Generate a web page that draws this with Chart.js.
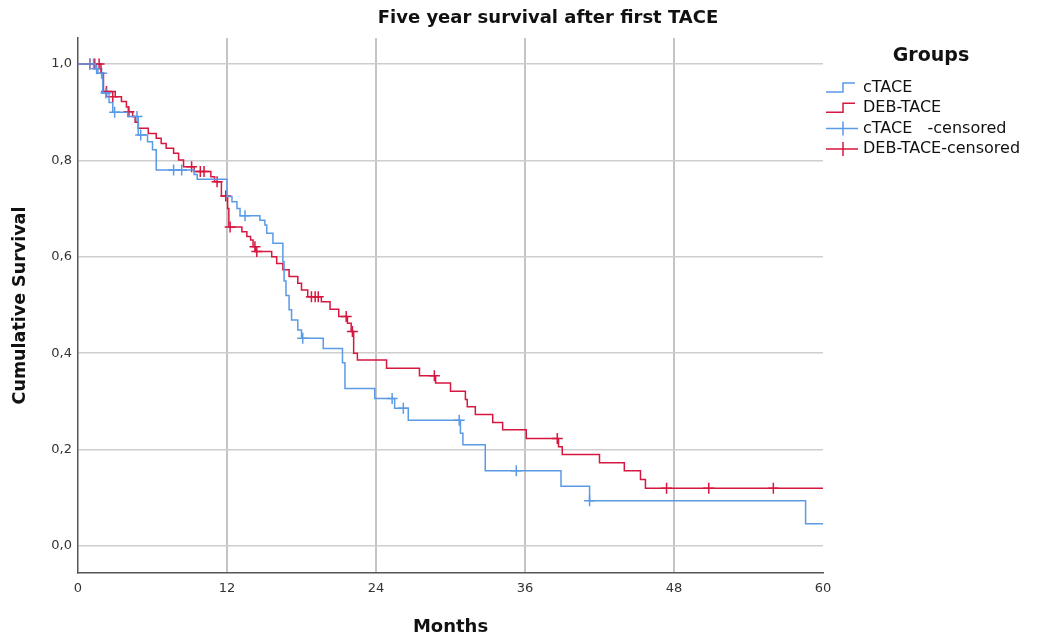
<!DOCTYPE html>
<html>
<head>
<meta charset="utf-8">
<script src="https://cdn.jsdelivr.net/npm/chart.js@4.4.0/dist/chart.umd.min.js"></script>
<style>
  html, body { margin: 0; padding: 0; background: #fff; }
</style>
</head>
<body>
<canvas id="km" width="1038" height="639"></canvas>
<script>
// Kaplan-Meier steps: survival from each time onward
const ctaceTimes = [0, 1.4, 1.6, 2.0, 2.5, 2.8, 4.0, 4.85, 5.6, 6.0, 6.3, 9.35, 9.6, 12.0, 12.4, 12.8, 13.05, 14.65, 15.05, 15.2, 15.7, 16.5, 16.6, 16.75, 17.0, 17.2, 17.7, 18.0, 19.75, 21.3, 21.5, 23.9, 25.5, 26.6, 30.8, 31.0, 32.8, 38.9, 41.2, 58.6, 60];
const ctaceSurv = [1.0, 0.99, 0.981, 0.94, 0.92, 0.90, 0.891, 0.853, 0.839, 0.822, 0.78, 0.771, 0.761, 0.725, 0.714, 0.70, 0.685, 0.676, 0.666, 0.649, 0.628, 0.59, 0.55, 0.52, 0.49, 0.469, 0.448, 0.431, 0.41, 0.38, 0.327, 0.306, 0.286, 0.261, 0.234, 0.21, 0.156, 0.124, 0.094, 0.046, 0.046];
const ctaceCensTimes = [0.95, 1.25, 1.5, 1.9, 2.25, 2.95, 4.75, 5.05, 7.7, 8.35, 13.45, 18.1, 25.3, 26.2, 30.7, 35.3, 41.2];
const ctaceCensSurv = [1.0, 1.0, 0.99, 0.981, 0.94, 0.90, 0.891, 0.853, 0.78, 0.78, 0.685, 0.431, 0.306, 0.286, 0.261, 0.156, 0.094];

const debTimes = [0, 1.85, 2.05, 3.0, 3.5, 3.9, 4.05, 4.4, 4.6, 4.86, 5.66, 6.3, 6.7, 7.1, 7.7, 8.1, 8.5, 9.35, 10.7, 11.0, 11.55, 12.05, 12.15, 13.2, 13.6, 13.9, 14.1, 14.3, 15.6, 16.0, 16.5, 17.0, 17.7, 18.0, 18.5, 19.6, 20.3, 21.0, 21.7, 22.0, 22.2, 22.5, 24.85, 27.5, 28.8, 30.0, 31.2, 31.35, 32.0, 33.4, 34.2, 36.1, 38.7, 39.0, 42.0, 44.0, 45.3, 45.7, 60];
const debSurv = [1.0, 0.981, 0.943, 0.932, 0.922, 0.911, 0.901, 0.891, 0.879, 0.867, 0.856, 0.846, 0.835, 0.825, 0.815, 0.801, 0.787, 0.777, 0.766, 0.756, 0.726, 0.70, 0.662, 0.652, 0.642, 0.635, 0.621, 0.611, 0.600, 0.586, 0.573, 0.559, 0.545, 0.531, 0.517, 0.507, 0.491, 0.476, 0.462, 0.445, 0.40, 0.386, 0.369, 0.353, 0.338, 0.321, 0.304, 0.289, 0.273, 0.256, 0.241, 0.223, 0.206, 0.190, 0.173, 0.156, 0.138, 0.120, 0.120];
const debCensTimes = [0.95, 1.35, 1.7, 2.3, 2.8, 4.1, 9.15, 9.85, 10.15, 11.2, 11.9, 12.25, 14.25, 14.4, 18.8, 19.1, 19.35, 21.6, 22.1, 28.7, 38.6, 47.4, 50.8, 56.0];
const debCensSurv = [1.0, 1.0, 1.0, 0.943, 0.932, 0.901, 0.787, 0.777, 0.777, 0.756, 0.726, 0.662, 0.621, 0.611, 0.517, 0.517, 0.517, 0.476, 0.445, 0.353, 0.223, 0.12, 0.12, 0.12];

const xTicks = [0, 12, 24, 36, 48, 60];
const yTicks = [0, 0.2, 0.4, 0.6, 0.8, 1.0];

const blue = '#5b9be6';
const red = '#d6173f';
const font = 'DejaVu Sans';

const pts = (xs, ys) => xs.map((x, i) => ({ x: x, y: ys[i] }));

// title + legend drawn next to the plot
const extras = {
  id: 'extras',
  afterDraw(chart) {
    const c = chart.ctx;
    const a = chart.chartArea;
    c.save();
    c.fillStyle = '#111';
    c.textBaseline = 'middle';
    c.textAlign = 'center';
    c.font = 'bold 18px "' + font + '"';
    c.fillText('Five year survival after first TACE', 548, 18);

    const lx = a.right + 3;
    c.font = 'bold 19px "' + font + '"';
    c.fillText('Groups', a.right + 108, 56);

    c.textAlign = 'left';
    c.font = '16px "' + font + '"';
    c.lineWidth = 1.5;
    chart.data.datasets.forEach((ds, i) => {
      const y = 88 + i * 20.3;
      c.strokeStyle = ds.borderColor;
      c.beginPath();
      if (ds.showLine) {
        c.moveTo(lx, y + 4);
        c.lineTo(lx + 17, y + 4);
        c.lineTo(lx + 17, y - 5);
        c.lineTo(lx + 29, y - 5);
      } else {
        c.moveTo(lx, y);
        c.lineTo(lx + 32, y);
        c.moveTo(lx + 17, y - 7);
        c.lineTo(lx + 17, y + 7);
      }
      c.stroke();
      c.fillStyle = '#111';
      c.fillText(ds.label, lx + 37, y);
    });
    c.restore();
  }
};

new Chart(document.getElementById('km'), {
  type: 'scatter',
  data: {
    datasets: [
      { label: 'cTACE', data: pts(ctaceTimes, ctaceSurv), showLine: true, stepped: 'before',
        borderColor: blue, borderWidth: 1.5, pointRadius: 0 },
      { label: 'DEB-TACE', data: pts(debTimes, debSurv), showLine: true, stepped: 'before',
        borderColor: red, borderWidth: 1.5, pointRadius: 0 },
      { label: 'cTACE   -censored', data: pts(ctaceCensTimes, ctaceCensSurv), showLine: false,
        pointStyle: 'cross', pointRadius: 5.5, borderColor: blue, borderWidth: 1.5 },
      { label: 'DEB-TACE-censored', data: pts(debCensTimes, debCensSurv), showLine: false,
        pointStyle: 'cross', pointRadius: 5.5, borderColor: red, borderWidth: 1.5 }
    ]
  },
  options: {
    responsive: false,
    animation: false,
    layout: { padding: { top: 38, right: 215, left: 0, bottom: 0 } },
    plugins: {
      legend: { display: false },
      title: { display: false },
      tooltip: { enabled: false }
    },
    scales: {
      x: {
        type: 'linear',
        min: 0, max: 60,
        afterBuildTicks: s => { s.ticks = xTicks.map(v => ({ value: v })); },
        afterFit: s => { s.height = 66; },
        ticks: { color: '#333', font: { family: font, size: 13 }, padding: 8 },
        grid: {
          drawTicks: false,
          lineWidth: 2,
          color: ctx => (ctx.tick && (ctx.tick.value === 0 || ctx.tick.value === 60)) ? 'rgba(0,0,0,0)' : '#c4c4c4'
        },
        border: { color: '#555', width: 1.5 },
        title: { display: true, text: 'Months', color: '#111', font: { family: font, size: 18, weight: 'bold' }, padding: { top: 0, bottom: 1 } }
      },
      y: {
        min: -0.056, max: 1.054,
        afterBuildTicks: s => { s.ticks = yTicks.map(v => ({ value: v })); },
        afterFit: s => { s.width = 78; },
        ticks: {
          color: '#333', font: { family: font, size: 13 }, padding: 6,
          callback: v => v.toFixed(1).replace('.', ',')
        },
        grid: { drawTicks: false, lineWidth: 1.5, color: '#cdcdcd' },
        border: { color: '#555', width: 1.5 },
        title: { display: true, text: 'Cumulative Survival', color: '#111', font: { family: font, size: 17.5, weight: 'bold' }, padding: { top: 10, bottom: 0 } }
      }
    }
  },
  plugins: [extras]
});
</script>
</body>
</html>
